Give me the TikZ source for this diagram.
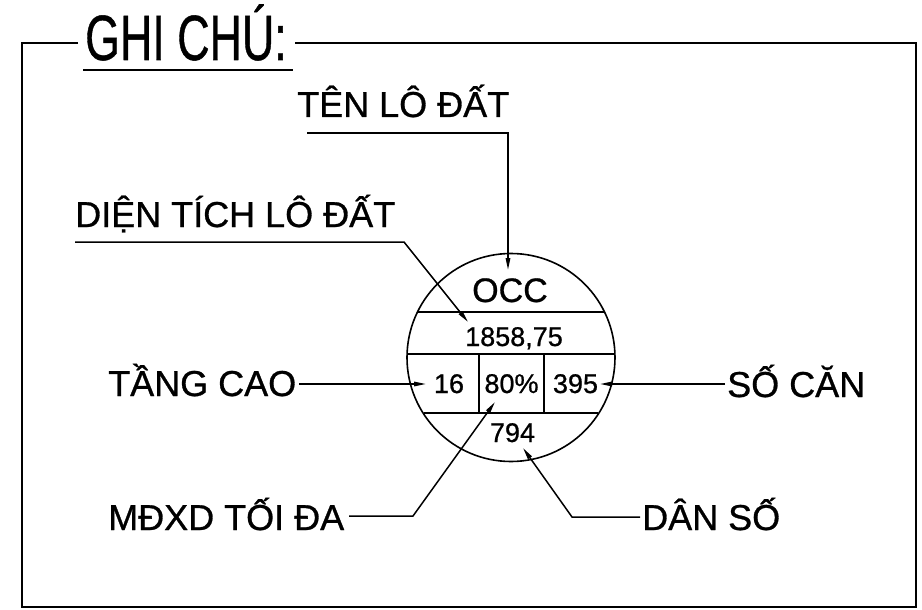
\documentclass[tikz,border=0pt]{standalone}
\usepackage{fontspec}
\setmainfont[FakeBold=0.8]{Liberation Sans}
\usetikzlibrary{arrows.meta}
\tikzset{
  lbl/.style={anchor=base west,inner sep=0pt,font=\fontsize{36}{40}\selectfont},
  num/.style={anchor=base,inner sep=0pt,font=\fontsize{27}{30}\selectfont},
  frameline/.style={line width=2pt},
  cell/.style={line width=1.6pt},
  lead/.style={line width=1.5pt},
  arr/.style={lead,-{Triangle[length=12pt,width=4.5pt]}}
}
\begin{document}
\begin{tikzpicture}[x=1pt,y=-1pt]
\useasboundingbox (0,0) rectangle (922,610);
\fill[white] (0,0) rectangle (922,610);
% frame
\draw[frameline] (78,43) -- (22,43) -- (22,607) -- (916,607) -- (916,43) -- (295,43);
% title
\node[anchor=base west,inner sep=0pt] (title) at (85,60) {\scalebox{0.70}[1]{\fontsize{64}{70}\selectfont GHI CHÚ:}};
\draw[frameline] (83,70) -- (293,70);
% labels
\node[lbl] (ten) at (297,117) {TÊN LÔ ĐẤT};
\node[lbl] (dien) at (75,227) {DIỆN TÍCH LÔ ĐẤT};
\node[lbl] (tang) at (108,396) {TẦNG CAO};
\node[lbl] (mdxd) at (108,530) {MĐXD TỐI ĐA};
\node[lbl] (socan) at (727,397) {SỐ CĂN};
\node[lbl] (danso) at (642,530) {DÂN SỐ};
% circle
\node[circle,draw,cell,minimum size=208pt,inner sep=0pt] (c) at (511,357.5) {};
\draw[cell] (417.5,312) -- (604.5,312);
\draw[cell] (407.2,354) -- (614.8,354);
\draw[cell] (423.6,413) -- (598.4,413);
\draw[cell] (479,354) -- (479,413);
\draw[cell] (544,354) -- (544,413);
% values
\node[anchor=base,inner sep=0pt,font=\fontsize{34}{38}\selectfont] (occ) at (510,302) {OCC};
\node[num] (area) at (514,346) {1858,75};
\node[num] (floors) at (449,393) {16};
\node[num] (cov) at (511.5,393) {80\%};
\node[num] (units) at (575.5,393) {395};
\node[num] (pop) at (512.5,442) {794};
% leaders
\coordinate (tenA) at (307,133);
\coordinate (tenK) at (508,133);
\coordinate (tenT) at (508,270);
\draw[arr] (tenA) -- (tenK) -- (tenT);
\coordinate (dienA) at (75,242);
\coordinate (dienK) at (404,242);
\coordinate (dienT) at (468,322);
\draw[arr] (dienA) -- (dienK) -- (dienT);
\coordinate (tangA) at (299,384);
\coordinate (tangT) at (426,384);
\draw[arr] (tangA) -- (tangT);
\coordinate (socanA) at (725,384);
\coordinate (socanT) at (600,384);
\draw[arr] (socanA) -- (socanT);
\coordinate (mdxdA) at (349,516);
\coordinate (mdxdK) at (413,516);
\coordinate (mdxdT) at (495,402);
\draw[arr] (mdxdA) -- (mdxdK) -- (mdxdT);
\coordinate (dansoA) at (640,517);
\coordinate (dansoK) at (572,517);
\coordinate (dansoT) at (523,448);
\draw[arr] (dansoA) -- (dansoK) -- (dansoT);
\end{tikzpicture}
\end{document}
